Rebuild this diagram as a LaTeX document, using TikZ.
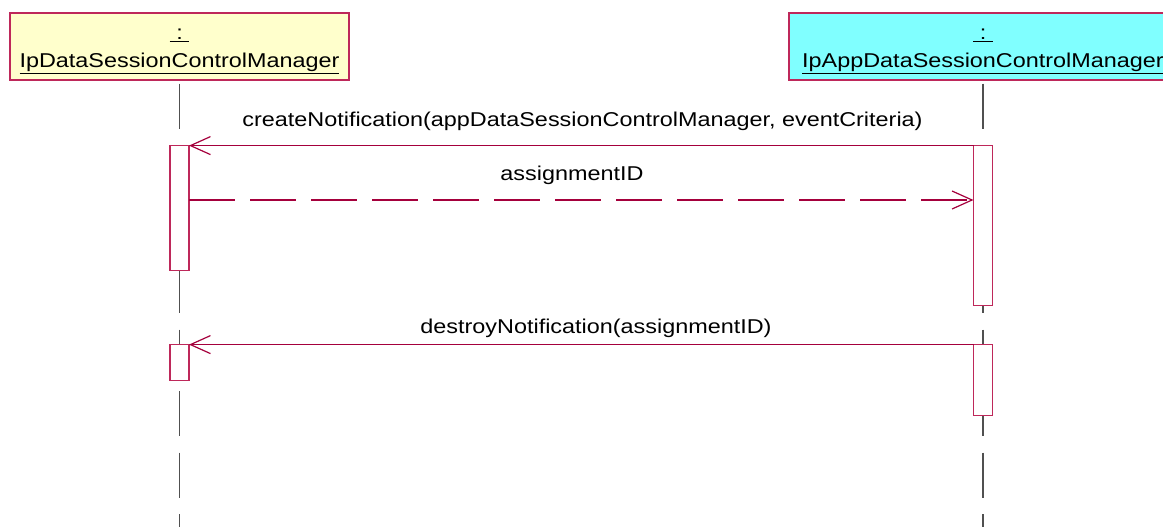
\documentclass[tikz,border=0pt]{standalone}
\usepackage{fontspec}
\setmainfont{Liberation Sans}[FakeStretch=1.17]
\usepackage{xcolor}
\usepackage{tikz}
\usetikzlibrary{positioning,arrows.meta}
\definecolor{umlred}{RGB}{165,0,60}
\definecolor{boxred}{RGB}{190,40,90}
\definecolor{objyellow}{RGB}{255,255,204}
\definecolor{objcyan}{RGB}{128,255,255}
\definecolor{lifegray}{RGB}{80,80,80}

\begin{document}
\begin{tikzpicture}[x=1pt,y=-1pt,
    obj/.style={draw=boxred,line width=1.2pt,minimum height=67pt,inner sep=0pt},
    objtext/.style={font=\fontsize{20}{24}\selectfont,inner sep=0pt,anchor=base},
    act/.style={draw=boxred,fill=white,line width=1.2pt,minimum width=19pt,inner sep=0pt,outer sep=0pt},
    msg/.style={draw=umlred,line width=1.2pt,-{Straight Barb[length=20pt,width=18pt,line width=1.2pt]}},
    reply/.style={msg,dash pattern=on 46pt off 15pt},
    lbl/.style={font=\fontsize{20}{24}\selectfont,inner sep=0pt,anchor=base},
    life/.style={draw=lifegray,line width=1.2pt,dash pattern=on 45pt off 16.5pt}]
    \useasboundingbox (0,0) rectangle (1163,527);
    \clip (0,0) rectangle (1163,527);
    % Objects
    \node[obj,fill=objyellow,minimum width=339pt] (dscm) at (179.5,46.5) {};
    \node[objtext] (dscmcolon) at (179.5,40) {\underline{\ :\ }};
    \node[objtext] (dscmname) at (179.5,68) {\underline{IpDataSessionControlManager}};
    \node[obj,fill=objcyan,minimum width=388pt] (appdscm) at (983,46.5) {};
    \node[objtext] (appdscmcolon) at (983,40) {\underline{\ :\ }};
    \node[objtext] (appdscmname) at (983,68) {\underline{IpAppDataSessionControlManager}};
    % Lifelines
    \coordinate (bottom) at (0,527);
    \foreach \o in {dscm,appdscm} {
        \draw[life] ([yshift=-3pt]\o.south) -- (\o.south |- bottom);
    }
    % Activations
    \node[act,minimum height=125pt,below=65pt of dscm] (dscmact1) {};
    \node[act,minimum height=160pt,below=65pt of appdscm] (appact1) {};
    \node[act,minimum height=36pt,below=264pt of dscm] (dscmact2) {};
    \node[act,minimum height=71pt,below=264pt of appdscm] (appact2) {};
    % Messages
    \coordinate (ret) at (0,200);
    \draw[msg] (appact1.north west) -- (dscmact1.north east);
    \draw[reply] (dscmact1.east |- ret) -- (appact1.west |- ret);
    \draw[msg] (appact2.north west) -- (dscmact2.north east);
    \node[lbl] (createlbl) at (582.5,126) {createNotification(appDataSessionControlManager, eventCriteria)};
    \node[lbl] (assignlbl) at (572,180) {assignmentID};
    \node[lbl] (destroylbl) at (596,333) {destroyNotification(assignmentID)};
\end{tikzpicture}
\end{document}
